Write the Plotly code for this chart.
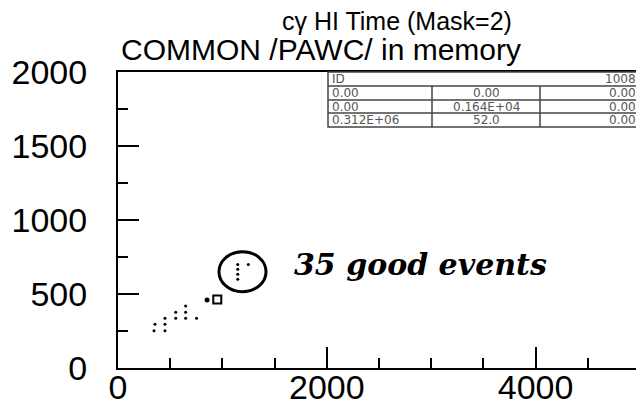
import plotly.graph_objects as go

# ---- data ----
dot_x = [345, 450, 354, 450, 450, 553, 648, 752, 553, 648, 648, 1147, 1147, 1147, 1147, 1248]
dot_y = [252, 252, 295, 295, 336, 336, 336, 336, 376, 376, 419, 700, 667, 633, 599, 700]
big_x = [853]
big_y = [459]
box_x = [951]
box_y = [462]

x_ticks = [0, 2000, 4000]
y_ticks = [0, 500, 1000, 1500, 2000]

title_line1 = "cγ HI Time (Mask=2)"
title_line2 = "COMMON /PAWC/ in memory"
note_text = "35 good events"

table_header = ["ID", "1008"]
table_rows = [["0.00", "0.00", "0.00"],
              ["0.00", "0.164E+04", "0.00"],
              ["0.312E+06", "52.0", "0.00"]]

FONT = "Liberation Sans"

fig = go.Figure()
fig.add_trace(go.Scatter(x=dot_x, y=dot_y, mode="markers",
                         marker=dict(size=3, color="black"), showlegend=False))
fig.add_trace(go.Scatter(x=big_x, y=big_y, mode="markers",
                         marker=dict(size=5, color="black"), showlegend=False))
fig.add_trace(go.Scatter(x=box_x, y=box_y, mode="markers",
                         marker=dict(size=8, symbol="square-open", color="black",
                                     line=dict(width=2, color="black")), showlegend=False))

# page body has an 8px margin: work in screen pixels, subtract OFF
OFF = 8
W, H = 644 - OFF, 408 - OFF
L, T = 118 - OFF, 72 - OFF
R = W - (640 - OFF)
B = H - (368 - OFF)
pw, ph = W - L - R, H - T - B

def px(x):
    return (x - OFF - L) / pw

def py(y):
    return (H - B - (y - OFF)) / ph

ann = []
shapes = []
ann.append(dict(text=title_line1, x=px(397), y=py(21), xref="paper", yref="paper",
                showarrow=False, font=dict(family=FONT, size=25, color="black"),
                xanchor="center", yanchor="middle"))
ann.append(dict(text=title_line2, x=px(119), y=py(49), xref="paper", yref="paper",
                showarrow=False, font=dict(family=FONT, size=30, color="black"),
                xanchor="left", yanchor="middle"))

# table
tx0, tx1 = 328, 640
rows_y = [72, 86, 100, 113, 127]
cols_x = [432, 540]
gray = "#555555"
shapes.append(dict(type="rect", xref="paper", yref="paper", x0=px(tx0), x1=px(tx1),
                   y0=py(rows_y[-1]), y1=py(rows_y[0]), line=dict(color="#444", width=1.5),
                   fillcolor="white", layer="above"))
for yy in rows_y[1:-1]:
    shapes.append(dict(type="line", xref="paper", yref="paper", x0=px(tx0), x1=px(tx1),
                       y0=py(yy), y1=py(yy), line=dict(color="#444", width=1.5), layer="above"))
for cx in cols_x:
    shapes.append(dict(type="line", xref="paper", yref="paper", x0=px(cx), x1=px(cx),
                       y0=py(rows_y[-1]), y1=py(rows_y[1]), line=dict(color="#444", width=1.5),
                       layer="above"))
tfont = dict(family="DejaVu Sans", size=12, color=gray)
cell = dict(xref="paper", yref="paper", showarrow=False, font=tfont, yanchor="middle",
            height=12, borderpad=0)
cy = (rows_y[0] + rows_y[1]) / 2
ann.append(dict(text=table_header[0], x=px(tx0 + 3), y=py(cy), xanchor="left", **cell))
ann.append(dict(text=table_header[1], x=px(tx1 - 3), y=py(cy), xanchor="right", **cell))
for i, row in enumerate(table_rows):
    cy = (rows_y[i + 1] + rows_y[i + 2]) / 2
    ann.append(dict(text=row[0], x=px(tx0 + 3), y=py(cy), xanchor="left", **cell))
    ann.append(dict(text=row[1], x=px((cols_x[0] + cols_x[1]) / 2), y=py(cy),
                    xanchor="center", **cell))
    ann.append(dict(text=row[2], x=px(tx1 - 3), y=py(cy), xanchor="right", **cell))

# handwritten circle and note
shapes.append(dict(type="circle", xref="x", yref="y", x0=967, x1=1418, y0=516, y1=786,
                   line=dict(color="black", width=3)))
ann.append(dict(text="<b><i>" + note_text + "</i></b>", x=px(292), y=py(264), xref="paper",
                yref="paper", showarrow=False,
                font=dict(family="DejaVu Serif", size=30, color="black"),
                xanchor="left", yanchor="middle"))

fig.update_layout(
    width=W, height=H,
    margin=dict(l=L, r=R, t=T, b=B, pad=0, autoexpand=False),
    paper_bgcolor="white", plot_bgcolor="white",
    annotations=ann, shapes=shapes,
    font=dict(family=FONT, color="black"),
)
fig.update_xaxes(range=[0, 5000], tickvals=x_ticks, ticktext=[str(v) for v in x_ticks],
                 ticks="inside", ticklen=21, tickwidth=2, tickcolor="black",
                 showline=True, linewidth=2, linecolor="black", mirror=True,
                 showgrid=False, zeroline=False, ticklabelstandoff=-12, automargin=False,
                 tickfont=dict(family=FONT, size=34, color="black"),
                 minor=dict(dtick=500, tick0=0, ticks="inside", ticklen=10, tickwidth=2,
                            tickcolor="black", showgrid=False))
fig.update_yaxes(range=[0, 2000], tickvals=y_ticks, ticktext=[str(v) for v in y_ticks],
                 ticks="inside", ticklen=21, tickwidth=2, tickcolor="black",
                 showline=True, linewidth=2, linecolor="black", mirror=True,
                 showgrid=False, zeroline=False, ticklabelstandoff=22, automargin=False,
                 tickfont=dict(family=FONT, size=34, color="black"),
                 minor=dict(dtick=250, tick0=0, ticks="inside", ticklen=10, tickwidth=2,
                            tickcolor="black", showgrid=False))

fig.write_html("out.html")
